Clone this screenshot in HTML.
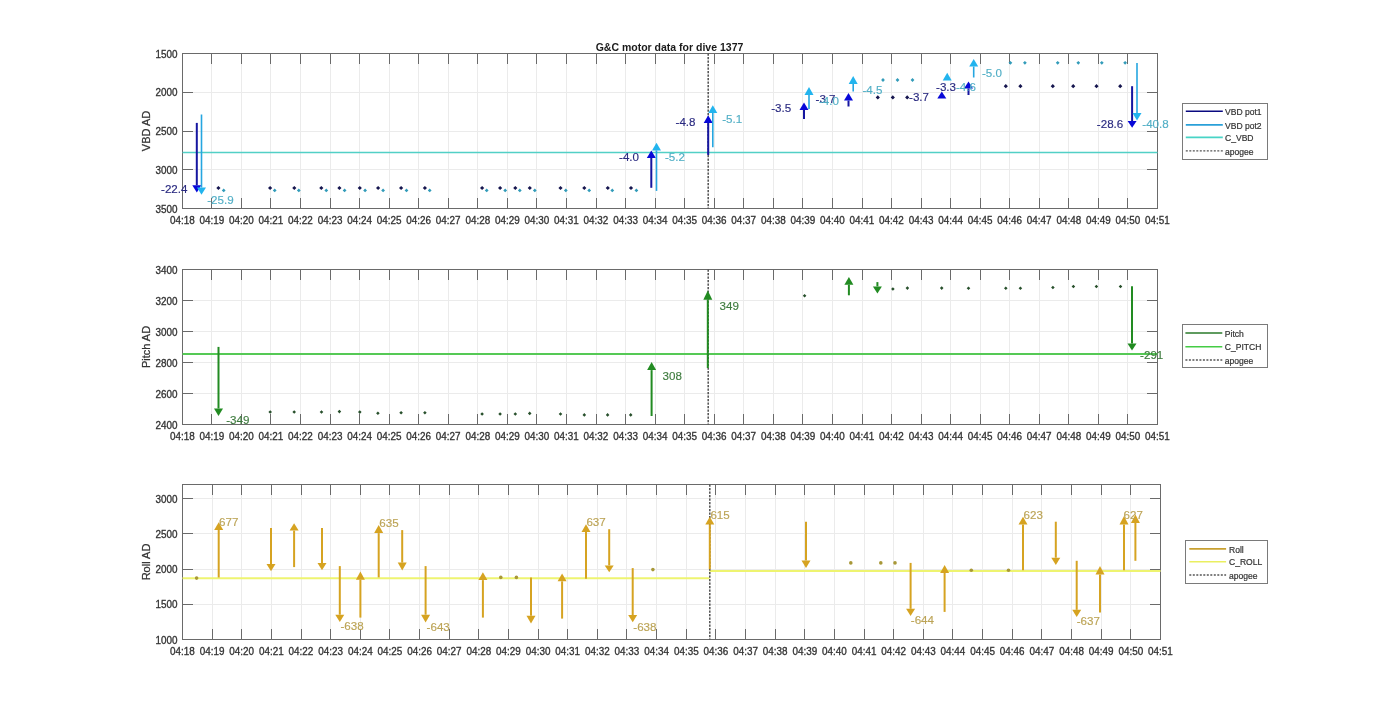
<!DOCTYPE html><html><head><meta charset="utf-8"><style>html,body{margin:0;padding:0;background:#fff;}svg{display:block;will-change:transform;}text{font-family:"Liberation Sans", sans-serif;}</style></head><body>
<svg width="1400" height="720" viewBox="0 0 1400 720" font-family='"Liberation Sans", sans-serif'>
<rect width="1400" height="720" fill="#fff"/>
<path d="M211.5 53.5V208.5M241.5 53.5V208.5M270.5 53.5V208.5M300.5 53.5V208.5M330.5 53.5V208.5M359.5 53.5V208.5M389.5 53.5V208.5M418.5 53.5V208.5M448.5 53.5V208.5M477.5 53.5V208.5M507.5 53.5V208.5M536.5 53.5V208.5M566.5 53.5V208.5M596.5 53.5V208.5M625.5 53.5V208.5M655.5 53.5V208.5M684.5 53.5V208.5M714.5 53.5V208.5M743.5 53.5V208.5M773.5 53.5V208.5M802.5 53.5V208.5M832.5 53.5V208.5M862.5 53.5V208.5M891.5 53.5V208.5M921.5 53.5V208.5M950.5 53.5V208.5M980.5 53.5V208.5M1009.5 53.5V208.5M1039.5 53.5V208.5M1068.5 53.5V208.5M1098.5 53.5V208.5M1127.5 53.5V208.5M182.5 92.5H1157.5M182.5 131.5H1157.5M182.5 169.5H1157.5" stroke="#ebebeb" stroke-width="1" fill="none"/>
<path d="M211.5 269.5V424.5M241.5 269.5V424.5M270.5 269.5V424.5M300.5 269.5V424.5M330.5 269.5V424.5M359.5 269.5V424.5M389.5 269.5V424.5M418.5 269.5V424.5M448.5 269.5V424.5M477.5 269.5V424.5M507.5 269.5V424.5M536.5 269.5V424.5M566.5 269.5V424.5M596.5 269.5V424.5M625.5 269.5V424.5M655.5 269.5V424.5M684.5 269.5V424.5M714.5 269.5V424.5M743.5 269.5V424.5M773.5 269.5V424.5M802.5 269.5V424.5M832.5 269.5V424.5M862.5 269.5V424.5M891.5 269.5V424.5M921.5 269.5V424.5M950.5 269.5V424.5M980.5 269.5V424.5M1009.5 269.5V424.5M1039.5 269.5V424.5M1068.5 269.5V424.5M1098.5 269.5V424.5M1127.5 269.5V424.5M182.5 393.5H1157.5M182.5 362.5H1157.5M182.5 331.5H1157.5M182.5 300.5H1157.5" stroke="#ebebeb" stroke-width="1" fill="none"/>
<path d="M212.5 484.5V639.5M241.5 484.5V639.5M271.5 484.5V639.5M301.5 484.5V639.5M330.5 484.5V639.5M360.5 484.5V639.5M389.5 484.5V639.5M419.5 484.5V639.5M449.5 484.5V639.5M478.5 484.5V639.5M508.5 484.5V639.5M538.5 484.5V639.5M567.5 484.5V639.5M597.5 484.5V639.5M626.5 484.5V639.5M656.5 484.5V639.5M686.5 484.5V639.5M715.5 484.5V639.5M745.5 484.5V639.5M775.5 484.5V639.5M804.5 484.5V639.5M834.5 484.5V639.5M864.5 484.5V639.5M893.5 484.5V639.5M923.5 484.5V639.5M952.5 484.5V639.5M982.5 484.5V639.5M1012.5 484.5V639.5M1041.5 484.5V639.5M1071.5 484.5V639.5M1101.5 484.5V639.5M1130.5 484.5V639.5M182.5 604.5H1160.5M182.5 569.5H1160.5M182.5 533.5H1160.5M182.5 498.5H1160.5" stroke="#ebebeb" stroke-width="1" fill="none"/>
<path d="M211.5 208.5V198M211.5 53.5V64M241.5 208.5V198M241.5 53.5V64M270.5 208.5V198M270.5 53.5V64M300.5 208.5V198M300.5 53.5V64M330.5 208.5V198M330.5 53.5V64M359.5 208.5V198M359.5 53.5V64M389.5 208.5V198M389.5 53.5V64M418.5 208.5V198M418.5 53.5V64M448.5 208.5V198M448.5 53.5V64M477.5 208.5V198M477.5 53.5V64M507.5 208.5V198M507.5 53.5V64M536.5 208.5V198M536.5 53.5V64M566.5 208.5V198M566.5 53.5V64M596.5 208.5V198M596.5 53.5V64M625.5 208.5V198M625.5 53.5V64M655.5 208.5V198M655.5 53.5V64M684.5 208.5V198M684.5 53.5V64M714.5 208.5V198M714.5 53.5V64M743.5 208.5V198M743.5 53.5V64M773.5 208.5V198M773.5 53.5V64M802.5 208.5V198M802.5 53.5V64M832.5 208.5V198M832.5 53.5V64M862.5 208.5V198M862.5 53.5V64M891.5 208.5V198M891.5 53.5V64M921.5 208.5V198M921.5 53.5V64M950.5 208.5V198M950.5 53.5V64M980.5 208.5V198M980.5 53.5V64M1009.5 208.5V198M1009.5 53.5V64M1039.5 208.5V198M1039.5 53.5V64M1068.5 208.5V198M1068.5 53.5V64M1098.5 208.5V198M1098.5 53.5V64M1127.5 208.5V198M1127.5 53.5V64M182.5 53.5H193M1157.5 53.5H1147M182.5 92.5H193M1157.5 92.5H1147M182.5 131.5H193M1157.5 131.5H1147M182.5 169.5H193M1157.5 169.5H1147M182.5 208.5H193M1157.5 208.5H1147" stroke="#6a6a6a" stroke-width="1" fill="none"/>
<rect x="182.5" y="53.5" width="975" height="155" stroke="#6a6a6a" stroke-width="1" fill="none"/>
<g font-size="9.9" fill="#333333" stroke="#333333" stroke-width="0.3"><text transform="translate(182.3 223.7) scale(1 1.12)" text-anchor="middle">04:18</text><text transform="translate(211.85 223.7) scale(1 1.12)" text-anchor="middle">04:19</text><text transform="translate(241.4 223.7) scale(1 1.12)" text-anchor="middle">04:20</text><text transform="translate(270.95 223.7) scale(1 1.12)" text-anchor="middle">04:21</text><text transform="translate(300.5 223.7) scale(1 1.12)" text-anchor="middle">04:22</text><text transform="translate(330.05 223.7) scale(1 1.12)" text-anchor="middle">04:23</text><text transform="translate(359.6 223.7) scale(1 1.12)" text-anchor="middle">04:24</text><text transform="translate(389.15 223.7) scale(1 1.12)" text-anchor="middle">04:25</text><text transform="translate(418.7 223.7) scale(1 1.12)" text-anchor="middle">04:26</text><text transform="translate(448.25 223.7) scale(1 1.12)" text-anchor="middle">04:27</text><text transform="translate(477.8 223.7) scale(1 1.12)" text-anchor="middle">04:28</text><text transform="translate(507.35 223.7) scale(1 1.12)" text-anchor="middle">04:29</text><text transform="translate(536.9 223.7) scale(1 1.12)" text-anchor="middle">04:30</text><text transform="translate(566.45 223.7) scale(1 1.12)" text-anchor="middle">04:31</text><text transform="translate(596 223.7) scale(1 1.12)" text-anchor="middle">04:32</text><text transform="translate(625.55 223.7) scale(1 1.12)" text-anchor="middle">04:33</text><text transform="translate(655.1 223.7) scale(1 1.12)" text-anchor="middle">04:34</text><text transform="translate(684.65 223.7) scale(1 1.12)" text-anchor="middle">04:35</text><text transform="translate(714.2 223.7) scale(1 1.12)" text-anchor="middle">04:36</text><text transform="translate(743.75 223.7) scale(1 1.12)" text-anchor="middle">04:37</text><text transform="translate(773.3 223.7) scale(1 1.12)" text-anchor="middle">04:38</text><text transform="translate(802.85 223.7) scale(1 1.12)" text-anchor="middle">04:39</text><text transform="translate(832.4 223.7) scale(1 1.12)" text-anchor="middle">04:40</text><text transform="translate(861.95 223.7) scale(1 1.12)" text-anchor="middle">04:41</text><text transform="translate(891.5 223.7) scale(1 1.12)" text-anchor="middle">04:42</text><text transform="translate(921.05 223.7) scale(1 1.12)" text-anchor="middle">04:43</text><text transform="translate(950.6 223.7) scale(1 1.12)" text-anchor="middle">04:44</text><text transform="translate(980.15 223.7) scale(1 1.12)" text-anchor="middle">04:45</text><text transform="translate(1009.7 223.7) scale(1 1.12)" text-anchor="middle">04:46</text><text transform="translate(1039.25 223.7) scale(1 1.12)" text-anchor="middle">04:47</text><text transform="translate(1068.8 223.7) scale(1 1.12)" text-anchor="middle">04:48</text><text transform="translate(1098.35 223.7) scale(1 1.12)" text-anchor="middle">04:49</text><text transform="translate(1127.9 223.7) scale(1 1.12)" text-anchor="middle">04:50</text><text transform="translate(1157.45 223.7) scale(1 1.12)" text-anchor="middle">04:51</text><text transform="translate(177.4 57.5) scale(1 1.12)" text-anchor="end">1500</text><text transform="translate(177.4 96.25) scale(1 1.12)" text-anchor="end">2000</text><text transform="translate(177.4 135) scale(1 1.12)" text-anchor="end">2500</text><text transform="translate(177.4 173.75) scale(1 1.12)" text-anchor="end">3000</text><text transform="translate(177.4 212.5) scale(1 1.12)" text-anchor="end">3500</text></g>
<text x="0" y="0" font-size="11.0" fill="#333333" stroke="#333333" stroke-width="0.25" text-anchor="middle" transform="translate(149.6 131) rotate(-90)">VBD AD</text>
<path d="M211.5 424.5V414M211.5 269.5V280M241.5 424.5V414M241.5 269.5V280M270.5 424.5V414M270.5 269.5V280M300.5 424.5V414M300.5 269.5V280M330.5 424.5V414M330.5 269.5V280M359.5 424.5V414M359.5 269.5V280M389.5 424.5V414M389.5 269.5V280M418.5 424.5V414M418.5 269.5V280M448.5 424.5V414M448.5 269.5V280M477.5 424.5V414M477.5 269.5V280M507.5 424.5V414M507.5 269.5V280M536.5 424.5V414M536.5 269.5V280M566.5 424.5V414M566.5 269.5V280M596.5 424.5V414M596.5 269.5V280M625.5 424.5V414M625.5 269.5V280M655.5 424.5V414M655.5 269.5V280M684.5 424.5V414M684.5 269.5V280M714.5 424.5V414M714.5 269.5V280M743.5 424.5V414M743.5 269.5V280M773.5 424.5V414M773.5 269.5V280M802.5 424.5V414M802.5 269.5V280M832.5 424.5V414M832.5 269.5V280M862.5 424.5V414M862.5 269.5V280M891.5 424.5V414M891.5 269.5V280M921.5 424.5V414M921.5 269.5V280M950.5 424.5V414M950.5 269.5V280M980.5 424.5V414M980.5 269.5V280M1009.5 424.5V414M1009.5 269.5V280M1039.5 424.5V414M1039.5 269.5V280M1068.5 424.5V414M1068.5 269.5V280M1098.5 424.5V414M1098.5 269.5V280M1127.5 424.5V414M1127.5 269.5V280M182.5 424.5H193M1157.5 424.5H1147M182.5 393.5H193M1157.5 393.5H1147M182.5 362.5H193M1157.5 362.5H1147M182.5 331.5H193M1157.5 331.5H1147M182.5 300.5H193M1157.5 300.5H1147M182.5 269.5H193M1157.5 269.5H1147" stroke="#6a6a6a" stroke-width="1" fill="none"/>
<rect x="182.5" y="269.5" width="975" height="155" stroke="#6a6a6a" stroke-width="1" fill="none"/>
<g font-size="9.9" fill="#333333" stroke="#333333" stroke-width="0.3"><text transform="translate(182.3 439.7) scale(1 1.12)" text-anchor="middle">04:18</text><text transform="translate(211.85 439.7) scale(1 1.12)" text-anchor="middle">04:19</text><text transform="translate(241.4 439.7) scale(1 1.12)" text-anchor="middle">04:20</text><text transform="translate(270.95 439.7) scale(1 1.12)" text-anchor="middle">04:21</text><text transform="translate(300.5 439.7) scale(1 1.12)" text-anchor="middle">04:22</text><text transform="translate(330.05 439.7) scale(1 1.12)" text-anchor="middle">04:23</text><text transform="translate(359.6 439.7) scale(1 1.12)" text-anchor="middle">04:24</text><text transform="translate(389.15 439.7) scale(1 1.12)" text-anchor="middle">04:25</text><text transform="translate(418.7 439.7) scale(1 1.12)" text-anchor="middle">04:26</text><text transform="translate(448.25 439.7) scale(1 1.12)" text-anchor="middle">04:27</text><text transform="translate(477.8 439.7) scale(1 1.12)" text-anchor="middle">04:28</text><text transform="translate(507.35 439.7) scale(1 1.12)" text-anchor="middle">04:29</text><text transform="translate(536.9 439.7) scale(1 1.12)" text-anchor="middle">04:30</text><text transform="translate(566.45 439.7) scale(1 1.12)" text-anchor="middle">04:31</text><text transform="translate(596 439.7) scale(1 1.12)" text-anchor="middle">04:32</text><text transform="translate(625.55 439.7) scale(1 1.12)" text-anchor="middle">04:33</text><text transform="translate(655.1 439.7) scale(1 1.12)" text-anchor="middle">04:34</text><text transform="translate(684.65 439.7) scale(1 1.12)" text-anchor="middle">04:35</text><text transform="translate(714.2 439.7) scale(1 1.12)" text-anchor="middle">04:36</text><text transform="translate(743.75 439.7) scale(1 1.12)" text-anchor="middle">04:37</text><text transform="translate(773.3 439.7) scale(1 1.12)" text-anchor="middle">04:38</text><text transform="translate(802.85 439.7) scale(1 1.12)" text-anchor="middle">04:39</text><text transform="translate(832.4 439.7) scale(1 1.12)" text-anchor="middle">04:40</text><text transform="translate(861.95 439.7) scale(1 1.12)" text-anchor="middle">04:41</text><text transform="translate(891.5 439.7) scale(1 1.12)" text-anchor="middle">04:42</text><text transform="translate(921.05 439.7) scale(1 1.12)" text-anchor="middle">04:43</text><text transform="translate(950.6 439.7) scale(1 1.12)" text-anchor="middle">04:44</text><text transform="translate(980.15 439.7) scale(1 1.12)" text-anchor="middle">04:45</text><text transform="translate(1009.7 439.7) scale(1 1.12)" text-anchor="middle">04:46</text><text transform="translate(1039.25 439.7) scale(1 1.12)" text-anchor="middle">04:47</text><text transform="translate(1068.8 439.7) scale(1 1.12)" text-anchor="middle">04:48</text><text transform="translate(1098.35 439.7) scale(1 1.12)" text-anchor="middle">04:49</text><text transform="translate(1127.9 439.7) scale(1 1.12)" text-anchor="middle">04:50</text><text transform="translate(1157.45 439.7) scale(1 1.12)" text-anchor="middle">04:51</text><text transform="translate(177.4 428.5) scale(1 1.12)" text-anchor="end">2400</text><text transform="translate(177.4 397.5) scale(1 1.12)" text-anchor="end">2600</text><text transform="translate(177.4 366.5) scale(1 1.12)" text-anchor="end">2800</text><text transform="translate(177.4 335.5) scale(1 1.12)" text-anchor="end">3000</text><text transform="translate(177.4 304.5) scale(1 1.12)" text-anchor="end">3200</text><text transform="translate(177.4 273.5) scale(1 1.12)" text-anchor="end">3400</text></g>
<text x="0" y="0" font-size="11.0" fill="#333333" stroke="#333333" stroke-width="0.25" text-anchor="middle" transform="translate(149.6 347) rotate(-90)">Pitch AD</text>
<path d="M212.5 639.5V629M212.5 484.5V495M241.5 639.5V629M241.5 484.5V495M271.5 639.5V629M271.5 484.5V495M301.5 639.5V629M301.5 484.5V495M330.5 639.5V629M330.5 484.5V495M360.5 639.5V629M360.5 484.5V495M389.5 639.5V629M389.5 484.5V495M419.5 639.5V629M419.5 484.5V495M449.5 639.5V629M449.5 484.5V495M478.5 639.5V629M478.5 484.5V495M508.5 639.5V629M508.5 484.5V495M538.5 639.5V629M538.5 484.5V495M567.5 639.5V629M567.5 484.5V495M597.5 639.5V629M597.5 484.5V495M626.5 639.5V629M626.5 484.5V495M656.5 639.5V629M656.5 484.5V495M686.5 639.5V629M686.5 484.5V495M715.5 639.5V629M715.5 484.5V495M745.5 639.5V629M745.5 484.5V495M775.5 639.5V629M775.5 484.5V495M804.5 639.5V629M804.5 484.5V495M834.5 639.5V629M834.5 484.5V495M864.5 639.5V629M864.5 484.5V495M893.5 639.5V629M893.5 484.5V495M923.5 639.5V629M923.5 484.5V495M952.5 639.5V629M952.5 484.5V495M982.5 639.5V629M982.5 484.5V495M1012.5 639.5V629M1012.5 484.5V495M1041.5 639.5V629M1041.5 484.5V495M1071.5 639.5V629M1071.5 484.5V495M1101.5 639.5V629M1101.5 484.5V495M1130.5 639.5V629M1130.5 484.5V495M182.5 639.5H193M1160.5 639.5H1150M182.5 604.5H193M1160.5 604.5H1150M182.5 569.5H193M1160.5 569.5H1150M182.5 533.5H193M1160.5 533.5H1150M182.5 498.5H193M1160.5 498.5H1150" stroke="#6a6a6a" stroke-width="1" fill="none"/>
<rect x="182.5" y="484.5" width="978" height="155" stroke="#6a6a6a" stroke-width="1" fill="none"/>
<g font-size="9.9" fill="#333333" stroke="#333333" stroke-width="0.3"><text transform="translate(182.46 654.7) scale(1 1.12)" text-anchor="middle">04:18</text><text transform="translate(212.1 654.7) scale(1 1.12)" text-anchor="middle">04:19</text><text transform="translate(241.73 654.7) scale(1 1.12)" text-anchor="middle">04:20</text><text transform="translate(271.37 654.7) scale(1 1.12)" text-anchor="middle">04:21</text><text transform="translate(301 654.7) scale(1 1.12)" text-anchor="middle">04:22</text><text transform="translate(330.64 654.7) scale(1 1.12)" text-anchor="middle">04:23</text><text transform="translate(360.27 654.7) scale(1 1.12)" text-anchor="middle">04:24</text><text transform="translate(389.91 654.7) scale(1 1.12)" text-anchor="middle">04:25</text><text transform="translate(419.54 654.7) scale(1 1.12)" text-anchor="middle">04:26</text><text transform="translate(449.18 654.7) scale(1 1.12)" text-anchor="middle">04:27</text><text transform="translate(478.81 654.7) scale(1 1.12)" text-anchor="middle">04:28</text><text transform="translate(508.45 654.7) scale(1 1.12)" text-anchor="middle">04:29</text><text transform="translate(538.08 654.7) scale(1 1.12)" text-anchor="middle">04:30</text><text transform="translate(567.72 654.7) scale(1 1.12)" text-anchor="middle">04:31</text><text transform="translate(597.35 654.7) scale(1 1.12)" text-anchor="middle">04:32</text><text transform="translate(626.99 654.7) scale(1 1.12)" text-anchor="middle">04:33</text><text transform="translate(656.62 654.7) scale(1 1.12)" text-anchor="middle">04:34</text><text transform="translate(686.26 654.7) scale(1 1.12)" text-anchor="middle">04:35</text><text transform="translate(715.89 654.7) scale(1 1.12)" text-anchor="middle">04:36</text><text transform="translate(745.53 654.7) scale(1 1.12)" text-anchor="middle">04:37</text><text transform="translate(775.16 654.7) scale(1 1.12)" text-anchor="middle">04:38</text><text transform="translate(804.8 654.7) scale(1 1.12)" text-anchor="middle">04:39</text><text transform="translate(834.43 654.7) scale(1 1.12)" text-anchor="middle">04:40</text><text transform="translate(864.07 654.7) scale(1 1.12)" text-anchor="middle">04:41</text><text transform="translate(893.7 654.7) scale(1 1.12)" text-anchor="middle">04:42</text><text transform="translate(923.34 654.7) scale(1 1.12)" text-anchor="middle">04:43</text><text transform="translate(952.97 654.7) scale(1 1.12)" text-anchor="middle">04:44</text><text transform="translate(982.61 654.7) scale(1 1.12)" text-anchor="middle">04:45</text><text transform="translate(1012.24 654.7) scale(1 1.12)" text-anchor="middle">04:46</text><text transform="translate(1041.88 654.7) scale(1 1.12)" text-anchor="middle">04:47</text><text transform="translate(1071.51 654.7) scale(1 1.12)" text-anchor="middle">04:48</text><text transform="translate(1101.15 654.7) scale(1 1.12)" text-anchor="middle">04:49</text><text transform="translate(1130.78 654.7) scale(1 1.12)" text-anchor="middle">04:50</text><text transform="translate(1160.42 654.7) scale(1 1.12)" text-anchor="middle">04:51</text><text transform="translate(177.4 643.5) scale(1 1.12)" text-anchor="end">1000</text><text transform="translate(177.4 608.27) scale(1 1.12)" text-anchor="end">1500</text><text transform="translate(177.4 573.05) scale(1 1.12)" text-anchor="end">2000</text><text transform="translate(177.4 537.82) scale(1 1.12)" text-anchor="end">2500</text><text transform="translate(177.4 502.59) scale(1 1.12)" text-anchor="end">3000</text></g>
<text x="0" y="0" font-size="11.0" fill="#333333" stroke="#333333" stroke-width="0.25" text-anchor="middle" transform="translate(149.6 562) rotate(-90)">Roll AD</text>
<path d="M182.5 152.5H1157.5" stroke="#52d0c6" stroke-width="1.4"/>
<path d="M223.7 188.5l1.9 1.9l-1.9 1.9l-1.9 -1.9zM274.7 188.5l1.9 1.9l-1.9 1.9l-1.9 -1.9zM298.8 188.5l1.9 1.9l-1.9 1.9l-1.9 -1.9zM326.3 188.5l1.9 1.9l-1.9 1.9l-1.9 -1.9zM344.6 188.5l1.9 1.9l-1.9 1.9l-1.9 -1.9zM365.1 188.5l1.9 1.9l-1.9 1.9l-1.9 -1.9zM383.1 188.5l1.9 1.9l-1.9 1.9l-1.9 -1.9zM406.5 188.5l1.9 1.9l-1.9 1.9l-1.9 -1.9zM429.7 188.5l1.9 1.9l-1.9 1.9l-1.9 -1.9zM486.7 188.5l1.9 1.9l-1.9 1.9l-1.9 -1.9zM505.2 188.5l1.9 1.9l-1.9 1.9l-1.9 -1.9zM519.8 188.5l1.9 1.9l-1.9 1.9l-1.9 -1.9zM534.8 188.5l1.9 1.9l-1.9 1.9l-1.9 -1.9zM565.8 188.5l1.9 1.9l-1.9 1.9l-1.9 -1.9zM589.2 188.5l1.9 1.9l-1.9 1.9l-1.9 -1.9zM612.3 188.5l1.9 1.9l-1.9 1.9l-1.9 -1.9zM636.4 188.5l1.9 1.9l-1.9 1.9l-1.9 -1.9zM883 78.1l1.9 1.9l-1.9 1.9l-1.9 -1.9zM897.5 78.1l1.9 1.9l-1.9 1.9l-1.9 -1.9zM912.5 78.1l1.9 1.9l-1.9 1.9l-1.9 -1.9zM1010.4 60.9l1.9 1.9l-1.9 1.9l-1.9 -1.9zM1024.9 60.9l1.9 1.9l-1.9 1.9l-1.9 -1.9zM1057.7 60.9l1.9 1.9l-1.9 1.9l-1.9 -1.9zM1078.3 60.9l1.9 1.9l-1.9 1.9l-1.9 -1.9zM1101.8 60.9l1.9 1.9l-1.9 1.9l-1.9 -1.9zM1125.1 60.9l1.9 1.9l-1.9 1.9l-1.9 -1.9z" fill="#339cba"/>
<path d="M218.4 185.9l2.1 2.1l-2.1 2.1l-2.1 -2.1zM270.1 185.9l2.1 2.1l-2.1 2.1l-2.1 -2.1zM294.3 185.9l2.1 2.1l-2.1 2.1l-2.1 -2.1zM321.3 185.9l2.1 2.1l-2.1 2.1l-2.1 -2.1zM339.4 185.9l2.1 2.1l-2.1 2.1l-2.1 -2.1zM359.8 185.9l2.1 2.1l-2.1 2.1l-2.1 -2.1zM378.1 185.9l2.1 2.1l-2.1 2.1l-2.1 -2.1zM401.1 185.9l2.1 2.1l-2.1 2.1l-2.1 -2.1zM424.9 185.9l2.1 2.1l-2.1 2.1l-2.1 -2.1zM482.1 185.9l2.1 2.1l-2.1 2.1l-2.1 -2.1zM500.1 185.9l2.1 2.1l-2.1 2.1l-2.1 -2.1zM515.3 185.9l2.1 2.1l-2.1 2.1l-2.1 -2.1zM529.8 185.9l2.1 2.1l-2.1 2.1l-2.1 -2.1zM560.5 185.9l2.1 2.1l-2.1 2.1l-2.1 -2.1zM584.3 185.9l2.1 2.1l-2.1 2.1l-2.1 -2.1zM607.8 185.9l2.1 2.1l-2.1 2.1l-2.1 -2.1zM631 185.9l2.1 2.1l-2.1 2.1l-2.1 -2.1zM877.8 95.3l2.1 2.1l-2.1 2.1l-2.1 -2.1zM892.8 95.3l2.1 2.1l-2.1 2.1l-2.1 -2.1zM907.2 95.3l2.1 2.1l-2.1 2.1l-2.1 -2.1zM1005.8 84.1l2.1 2.1l-2.1 2.1l-2.1 -2.1zM1020.4 84.1l2.1 2.1l-2.1 2.1l-2.1 -2.1zM1052.8 84.1l2.1 2.1l-2.1 2.1l-2.1 -2.1zM1073.2 84.1l2.1 2.1l-2.1 2.1l-2.1 -2.1zM1096.5 84.1l2.1 2.1l-2.1 2.1l-2.1 -2.1zM1120.2 84.1l2.1 2.1l-2.1 2.1l-2.1 -2.1z" fill="#16164f"/>
<path d="M708.2 53.5V208.5" stroke="#505050" stroke-width="1.5" stroke-dasharray="2.2 1.3"/>
<path d="M196.8 122.9V185.3" stroke="#1616a0" stroke-width="2.0"/>
<path d="M196.8 192.6L192.3 185.3L201.3 185.3z" fill="#0808d8"/>
<path d="M651.3 187.8V158" stroke="#1616a0" stroke-width="2.0"/>
<path d="M651.3 150.4L646.8 158L655.8 158z" fill="#0808d8"/>
<path d="M708.2 155V122.9" stroke="#1616a0" stroke-width="2.0"/>
<path d="M708.2 115.2L703.7 122.9L712.7 122.9z" fill="#0808d8"/>
<path d="M804 119V110" stroke="#1616a0" stroke-width="2.0"/>
<path d="M804 102.5L799.5 110L808.5 110z" fill="#0808d8"/>
<path d="M848.5 106.5V100.5" stroke="#1616a0" stroke-width="2.0"/>
<path d="M848.5 93L844 100.5L853 100.5z" fill="#0808d8"/>
<path d="M941.8 91.5L937.3 98.5L946.3 98.5z" fill="#0808d8"/>
<path d="M968.5 95V88.5" stroke="#1616a0" stroke-width="2.0"/>
<path d="M968.5 81.5L964 88.5L973 88.5z" fill="#0808d8"/>
<path d="M1132.1 86.2V121" stroke="#1616a0" stroke-width="2.0"/>
<path d="M1132.1 127.7L1127.6 121L1136.6 121z" fill="#0808d8"/>
<path d="M201.5 114.5V187.5" stroke="#25a6e0" stroke-width="1.6"/>
<path d="M201.5 194.7L197 187.5L206 187.5z" fill="#22b4ee"/>
<path d="M656.5 190.9V150.4" stroke="#25a6e0" stroke-width="1.6"/>
<path d="M656.5 142.7L652 150.4L661 150.4z" fill="#22b4ee"/>
<path d="M712.8 147.3V112.9" stroke="#25a6e0" stroke-width="1.6"/>
<path d="M712.8 105.3L708.3 112.9L717.3 112.9z" fill="#22b4ee"/>
<path d="M809 109V95" stroke="#25a6e0" stroke-width="1.6"/>
<path d="M809 87L804.5 95L813.5 95z" fill="#22b4ee"/>
<path d="M853.2 91.5V84" stroke="#25a6e0" stroke-width="1.6"/>
<path d="M853.2 76L848.7 84L857.7 84z" fill="#22b4ee"/>
<path d="M947.2 72.8L942.7 80.5L951.7 80.5z" fill="#22b4ee"/>
<path d="M973.7 77.5V66.5" stroke="#25a6e0" stroke-width="1.6"/>
<path d="M973.7 59L969.2 66.5L978.2 66.5z" fill="#22b4ee"/>
<path d="M1137 63.1V113.1" stroke="#25a6e0" stroke-width="1.6"/>
<path d="M1137 120.4L1132.5 113.1L1141.5 113.1z" fill="#22b4ee"/>
<text transform="translate(187.5 192.9) scale(1 1.0)" font-size="11.6" fill="#2a2a80" stroke="#2a2a80" stroke-width="0.15" text-anchor="end">-22.4</text>
<text transform="translate(639 161) scale(1 1.0)" font-size="11.6" fill="#2a2a80" stroke="#2a2a80" stroke-width="0.15" text-anchor="end">-4.0</text>
<text transform="translate(695.5 125.5) scale(1 1.0)" font-size="11.6" fill="#2a2a80" stroke="#2a2a80" stroke-width="0.15" text-anchor="end">-4.8</text>
<text transform="translate(791.2 112) scale(1 1.0)" font-size="11.6" fill="#2a2a80" stroke="#2a2a80" stroke-width="0.15" text-anchor="end">-3.5</text>
<text transform="translate(835.5 103) scale(1 1.0)" font-size="11.6" fill="#2a2a80" stroke="#2a2a80" stroke-width="0.15" text-anchor="end">-3.7</text>
<text transform="translate(929 100.5) scale(1 1.0)" font-size="11.6" fill="#2a2a80" stroke="#2a2a80" stroke-width="0.15" text-anchor="end">-3.7</text>
<text transform="translate(956 91) scale(1 1.0)" font-size="11.6" fill="#2a2a80" stroke="#2a2a80" stroke-width="0.15" text-anchor="end">-3.3</text>
<text transform="translate(1123.3 127.7) scale(1 1.0)" font-size="11.6" fill="#2a2a80" stroke="#2a2a80" stroke-width="0.15" text-anchor="end">-28.6</text>
<text transform="translate(207.2 203.5) scale(1 1.0)" font-size="11.6" fill="#52afc6" stroke="#52afc6" stroke-width="0.15" text-anchor="start">-25.9</text>
<text transform="translate(665 161) scale(1 1.0)" font-size="11.6" fill="#52afc6" stroke="#52afc6" stroke-width="0.15" text-anchor="start">-5.2</text>
<text transform="translate(722.2 122.9) scale(1 1.0)" font-size="11.6" fill="#52afc6" stroke="#52afc6" stroke-width="0.15" text-anchor="start">-5.1</text>
<text transform="translate(819 104.5) scale(1 1.0)" font-size="11.6" fill="#52afc6" stroke="#52afc6" stroke-width="0.15" text-anchor="start">-4.0</text>
<text transform="translate(862.5 94) scale(1 1.0)" font-size="11.6" fill="#52afc6" stroke="#52afc6" stroke-width="0.15" text-anchor="start">-4.5</text>
<text transform="translate(956 90.5) scale(1 1.0)" font-size="11.6" fill="#52afc6" stroke="#52afc6" stroke-width="0.15" text-anchor="start">-4.6</text>
<text transform="translate(982 76.5) scale(1 1.0)" font-size="11.6" fill="#52afc6" stroke="#52afc6" stroke-width="0.15" text-anchor="start">-5.0</text>
<text transform="translate(1142.3 128.3) scale(1 1.0)" font-size="11.6" fill="#52afc6" stroke="#52afc6" stroke-width="0.15" text-anchor="start">-40.8</text>
<path d="M182.5 354H1157.5" stroke="#55c955" stroke-width="2"/>
<path d="M270.2 410.2l1.8 1.8l-1.8 1.8l-1.8 -1.8zM294.2 410.2l1.8 1.8l-1.8 1.8l-1.8 -1.8zM321.5 410.2l1.8 1.8l-1.8 1.8l-1.8 -1.8zM339.4 409.8l1.8 1.8l-1.8 1.8l-1.8 -1.8zM359.8 410.3l1.8 1.8l-1.8 1.8l-1.8 -1.8zM377.9 411.5l1.8 1.8l-1.8 1.8l-1.8 -1.8zM401.1 410.9l1.8 1.8l-1.8 1.8l-1.8 -1.8zM424.9 410.9l1.8 1.8l-1.8 1.8l-1.8 -1.8zM482.1 412.2l1.8 1.8l-1.8 1.8l-1.8 -1.8zM500.1 412.2l1.8 1.8l-1.8 1.8l-1.8 -1.8zM515.3 412.2l1.8 1.8l-1.8 1.8l-1.8 -1.8zM529.7 411.6l1.8 1.8l-1.8 1.8l-1.8 -1.8zM560.5 412.2l1.8 1.8l-1.8 1.8l-1.8 -1.8zM584.3 413.1l1.8 1.8l-1.8 1.8l-1.8 -1.8zM607.6 413.1l1.8 1.8l-1.8 1.8l-1.8 -1.8zM630.7 413.1l1.8 1.8l-1.8 1.8l-1.8 -1.8zM804.6 293.9l1.8 1.8l-1.8 1.8l-1.8 -1.8zM892.9 287.2l1.8 1.8l-1.8 1.8l-1.8 -1.8zM907.4 286.3l1.8 1.8l-1.8 1.8l-1.8 -1.8zM941.7 286.3l1.8 1.8l-1.8 1.8l-1.8 -1.8zM968.5 286.5l1.8 1.8l-1.8 1.8l-1.8 -1.8zM1005.8 286.5l1.8 1.8l-1.8 1.8l-1.8 -1.8zM1020.4 286.5l1.8 1.8l-1.8 1.8l-1.8 -1.8zM1052.9 285.7l1.8 1.8l-1.8 1.8l-1.8 -1.8zM1073.4 284.7l1.8 1.8l-1.8 1.8l-1.8 -1.8zM1096.4 284.7l1.8 1.8l-1.8 1.8l-1.8 -1.8zM1120.5 284.7l1.8 1.8l-1.8 1.8l-1.8 -1.8z" fill="#28502c"/>
<path d="M708.2 269.5V424.5" stroke="#505050" stroke-width="1.5" stroke-dasharray="2.2 1.3"/>
<path d="M218.5 346.9V408.5" stroke="#228b22" stroke-width="2.0"/>
<path d="M218.5 416.1L214 408.5L223 408.5z" fill="#228b22"/>
<path d="M651.6 416V370.1" stroke="#228b22" stroke-width="2.0"/>
<path d="M651.6 362.1L647.1 370.1L656.1 370.1z" fill="#228b22"/>
<path d="M707.8 368V299.7" stroke="#228b22" stroke-width="2.0"/>
<path d="M707.8 290.5L703.3 299.7L712.3 299.7z" fill="#228b22"/>
<path d="M848.9 295.3V284.7" stroke="#228b22" stroke-width="2.0"/>
<path d="M848.9 277.1L844.4 284.7L853.4 284.7z" fill="#228b22"/>
<path d="M877.4 282.1V286.4" stroke="#228b22" stroke-width="2.0"/>
<path d="M877.4 293.6L872.9 286.4L881.9 286.4z" fill="#228b22"/>
<path d="M1132 286.2V343.6" stroke="#228b22" stroke-width="2.0"/>
<path d="M1132 350.6L1127.5 343.6L1136.5 343.6z" fill="#228b22"/>
<text transform="translate(226.2 424.3) scale(1 1.0)" font-size="11.6" fill="#3f7c3f" stroke="#3f7c3f" stroke-width="0.15" text-anchor="start">-349</text>
<text transform="translate(662.6 379.8) scale(1 1.0)" font-size="11.6" fill="#3f7c3f" stroke="#3f7c3f" stroke-width="0.15" text-anchor="start">308</text>
<text transform="translate(719.5 309.8) scale(1 1.0)" font-size="11.6" fill="#3f7c3f" stroke="#3f7c3f" stroke-width="0.15" text-anchor="start">349</text>
<text transform="translate(1140.1 359.3) scale(1 1.0)" font-size="11.6" fill="#3f7c3f" stroke="#3f7c3f" stroke-width="0.15" text-anchor="start">-291</text>
<path d="M182.5 578.2H709.5" stroke="#eef470" stroke-width="2"/>
<path d="M709.5 571H1160.5" stroke="#eef470" stroke-width="2"/>
<g fill="#a89838"><circle cx="196.6" cy="578.1" r="1.8"/><circle cx="500.8" cy="577.4" r="1.8"/><circle cx="516.4" cy="577.4" r="1.8"/><circle cx="652.9" cy="569.6" r="1.8"/><circle cx="850.8" cy="562.9" r="1.8"/><circle cx="880.8" cy="562.9" r="1.8"/><circle cx="895" cy="562.9" r="1.8"/><circle cx="971.3" cy="570.2" r="1.8"/><circle cx="1008.5" cy="570.2" r="1.8"/></g>
<path d="M709.8 484.5V639.5" stroke="#505050" stroke-width="1.5" stroke-dasharray="2.2 1.3"/>
<path d="M218.7 577.5V530" stroke="#d6a321" stroke-width="2.0"/>
<path d="M218.7 522.3L214.2 530L223.2 530z" fill="#d6a321"/>
<path d="M271 528.1V564" stroke="#d6a321" stroke-width="2.0"/>
<path d="M271 571.3L266.5 564L275.5 564z" fill="#d6a321"/>
<path d="M294.1 567.1V530.6" stroke="#d6a321" stroke-width="2.0"/>
<path d="M294.1 523.3L289.6 530.6L298.6 530.6z" fill="#d6a321"/>
<path d="M322 528.1V562.9" stroke="#d6a321" stroke-width="2.0"/>
<path d="M322 570.2L317.5 562.9L326.5 562.9z" fill="#d6a321"/>
<path d="M339.8 566.1V614.7" stroke="#d6a321" stroke-width="2.0"/>
<path d="M339.8 622.1L335.3 614.7L344.3 614.7z" fill="#d6a321"/>
<path d="M360.4 617.6V579.7" stroke="#d6a321" stroke-width="2.0"/>
<path d="M360.4 571.6L355.9 579.7L364.9 579.7z" fill="#d6a321"/>
<path d="M378.7 577.4V533.1" stroke="#d6a321" stroke-width="2.0"/>
<path d="M378.7 524.9L374.2 533.1L383.2 533.1z" fill="#d6a321"/>
<path d="M402.2 530.1V562.6" stroke="#d6a321" stroke-width="2.0"/>
<path d="M402.2 570.4L397.7 562.6L406.7 562.6z" fill="#d6a321"/>
<path d="M425.6 566.1V614.7" stroke="#d6a321" stroke-width="2.0"/>
<path d="M425.6 622.5L421.1 614.7L430.1 614.7z" fill="#d6a321"/>
<path d="M482.9 617.6V580.1" stroke="#d6a321" stroke-width="2.0"/>
<path d="M482.9 572.3L478.4 580.1L487.4 580.1z" fill="#d6a321"/>
<path d="M531 577.4V615.7" stroke="#d6a321" stroke-width="2.0"/>
<path d="M531 623.5L526.5 615.7L535.5 615.7z" fill="#d6a321"/>
<path d="M562.1 618.6V581.3" stroke="#d6a321" stroke-width="2.0"/>
<path d="M562.1 573.5L557.6 581.3L566.6 581.3z" fill="#d6a321"/>
<path d="M586 578.7V532.1" stroke="#d6a321" stroke-width="2.0"/>
<path d="M586 524.3L581.5 532.1L590.5 532.1z" fill="#d6a321"/>
<path d="M609.2 529.2V565.4" stroke="#d6a321" stroke-width="2.0"/>
<path d="M609.2 572.3L604.7 565.4L613.7 565.4z" fill="#d6a321"/>
<path d="M632.7 568.1V615" stroke="#d6a321" stroke-width="2.0"/>
<path d="M632.7 622.3L628.2 615L637.2 615z" fill="#d6a321"/>
<path d="M709.8 569.2V524.4" stroke="#d6a321" stroke-width="2.0"/>
<path d="M709.8 516.7L705.3 524.4L714.3 524.4z" fill="#d6a321"/>
<path d="M806 521.7V560.4" stroke="#d6a321" stroke-width="2.0"/>
<path d="M806 568.1L801.5 560.4L810.5 560.4z" fill="#d6a321"/>
<path d="M910.6 562.9V608.8" stroke="#d6a321" stroke-width="2.0"/>
<path d="M910.6 616L906.1 608.8L915.1 608.8z" fill="#d6a321"/>
<path d="M944.6 611.9V572.9" stroke="#d6a321" stroke-width="2.0"/>
<path d="M944.6 565L940.1 572.9L949.1 572.9z" fill="#d6a321"/>
<path d="M1023 570.2V524.6" stroke="#d6a321" stroke-width="2.0"/>
<path d="M1023 516.7L1018.5 524.6L1027.5 524.6z" fill="#d6a321"/>
<path d="M1055.8 521.7V557.7" stroke="#d6a321" stroke-width="2.0"/>
<path d="M1055.8 565L1051.3 557.7L1060.3 557.7z" fill="#d6a321"/>
<path d="M1076.7 560.8V609.8" stroke="#d6a321" stroke-width="2.0"/>
<path d="M1076.7 617.1L1072.2 609.8L1081.2 609.8z" fill="#d6a321"/>
<path d="M1100 612.5V574.4" stroke="#d6a321" stroke-width="2.0"/>
<path d="M1100 566L1095.5 574.4L1104.5 574.4z" fill="#d6a321"/>
<path d="M1124 570.2V524.4" stroke="#d6a321" stroke-width="2.0"/>
<path d="M1124 516L1119.5 524.4L1128.5 524.4z" fill="#d6a321"/>
<path d="M1135.4 560.8V522.9" stroke="#d6a321" stroke-width="2.0"/>
<path d="M1135.4 514.6L1130.9 522.9L1139.9 522.9z" fill="#d6a321"/>
<text transform="translate(219.1 525.8) scale(1 1.0)" font-size="11.6" fill="#bca456" stroke="#bca456" stroke-width="0.15" text-anchor="start">677</text>
<text transform="translate(340.4 630.3) scale(1 1.0)" font-size="11.6" fill="#bca456" stroke="#bca456" stroke-width="0.15" text-anchor="start">-638</text>
<text transform="translate(379.3 526.8) scale(1 1.0)" font-size="11.6" fill="#bca456" stroke="#bca456" stroke-width="0.15" text-anchor="start">635</text>
<text transform="translate(426.6 630.7) scale(1 1.0)" font-size="11.6" fill="#bca456" stroke="#bca456" stroke-width="0.15" text-anchor="start">-643</text>
<text transform="translate(586.4 526.2) scale(1 1.0)" font-size="11.6" fill="#bca456" stroke="#bca456" stroke-width="0.15" text-anchor="start">637</text>
<text transform="translate(633.3 631.3) scale(1 1.0)" font-size="11.6" fill="#bca456" stroke="#bca456" stroke-width="0.15" text-anchor="start">-638</text>
<text transform="translate(710.4 518.8) scale(1 1.0)" font-size="11.6" fill="#bca456" stroke="#bca456" stroke-width="0.15" text-anchor="start">615</text>
<text transform="translate(910.8 624.4) scale(1 1.0)" font-size="11.6" fill="#bca456" stroke="#bca456" stroke-width="0.15" text-anchor="start">-644</text>
<text transform="translate(1023.5 518.75) scale(1 1.0)" font-size="11.6" fill="#bca456" stroke="#bca456" stroke-width="0.15" text-anchor="start">623</text>
<text transform="translate(1076.7 625.4) scale(1 1.0)" font-size="11.6" fill="#bca456" stroke="#bca456" stroke-width="0.15" text-anchor="start">-637</text>
<text transform="translate(1123.5 519.2) scale(1 1.0)" font-size="11.6" fill="#bca456" stroke="#bca456" stroke-width="0.15" text-anchor="start">627</text>
<text x="669.5" y="50.9" font-size="10.5" font-weight="bold" fill="#1a1a1a" text-anchor="middle">G&amp;C motor data for dive 1377</text>
<rect x="1182.5" y="103.5" width="85" height="56" fill="#fff" stroke="#7a7a7a" stroke-width="1"/>
<path d="M1185.8 111.3H1222.8" stroke="#0a0a80" stroke-width="1.6"/>
<text x="1225" y="114.9" font-size="8.55" fill="#333333" stroke="#333333" stroke-width="0.2">VBD pot1</text>
<path d="M1185.8 124.9H1222.8" stroke="#2aa0d8" stroke-width="1.6"/>
<text x="1225" y="128.5" font-size="8.55" fill="#333333" stroke="#333333" stroke-width="0.2">VBD pot2</text>
<path d="M1185.8 137.4H1222.8" stroke="#48d4c6" stroke-width="1.6"/>
<text x="1225" y="141" font-size="8.55" fill="#333333" stroke="#333333" stroke-width="0.2">C_VBD</text>
<path d="M1185.8 150.9H1222.8" stroke="#555" stroke-width="1.3" stroke-dasharray="2 1.5"/>
<text x="1225" y="154.5" font-size="8.55" fill="#333333" stroke="#333333" stroke-width="0.2">apogee</text>
<rect x="1182.5" y="324.5" width="85" height="43" fill="#fff" stroke="#7a7a7a" stroke-width="1"/>
<path d="M1185.4 333H1222.3" stroke="#2a7a2a" stroke-width="1.6"/>
<text x="1224.8" y="336.6" font-size="8.55" fill="#333333" stroke="#333333" stroke-width="0.2">Pitch</text>
<path d="M1185.4 346.7H1222.3" stroke="#44cc44" stroke-width="1.6"/>
<text x="1224.8" y="350.3" font-size="8.55" fill="#333333" stroke="#333333" stroke-width="0.2">C_PITCH</text>
<path d="M1185.4 360H1222.3" stroke="#555" stroke-width="1.3" stroke-dasharray="2 1.5"/>
<text x="1224.8" y="363.6" font-size="8.55" fill="#333333" stroke="#333333" stroke-width="0.2">apogee</text>
<rect x="1185.5" y="540.5" width="82" height="43" fill="#fff" stroke="#7a7a7a" stroke-width="1"/>
<path d="M1189.3 548.9H1226.1" stroke="#c8a030" stroke-width="1.6"/>
<text x="1229" y="552.5" font-size="8.55" fill="#333333" stroke="#333333" stroke-width="0.2">Roll</text>
<path d="M1189.3 561.7H1226.1" stroke="#eaef60" stroke-width="1.6"/>
<text x="1229" y="565.3" font-size="8.55" fill="#333333" stroke="#333333" stroke-width="0.2">C_ROLL</text>
<path d="M1189.3 575H1226.1" stroke="#555" stroke-width="1.3" stroke-dasharray="2 1.5"/>
<text x="1229" y="578.6" font-size="8.55" fill="#333333" stroke="#333333" stroke-width="0.2">apogee</text>
</svg></body></html>
